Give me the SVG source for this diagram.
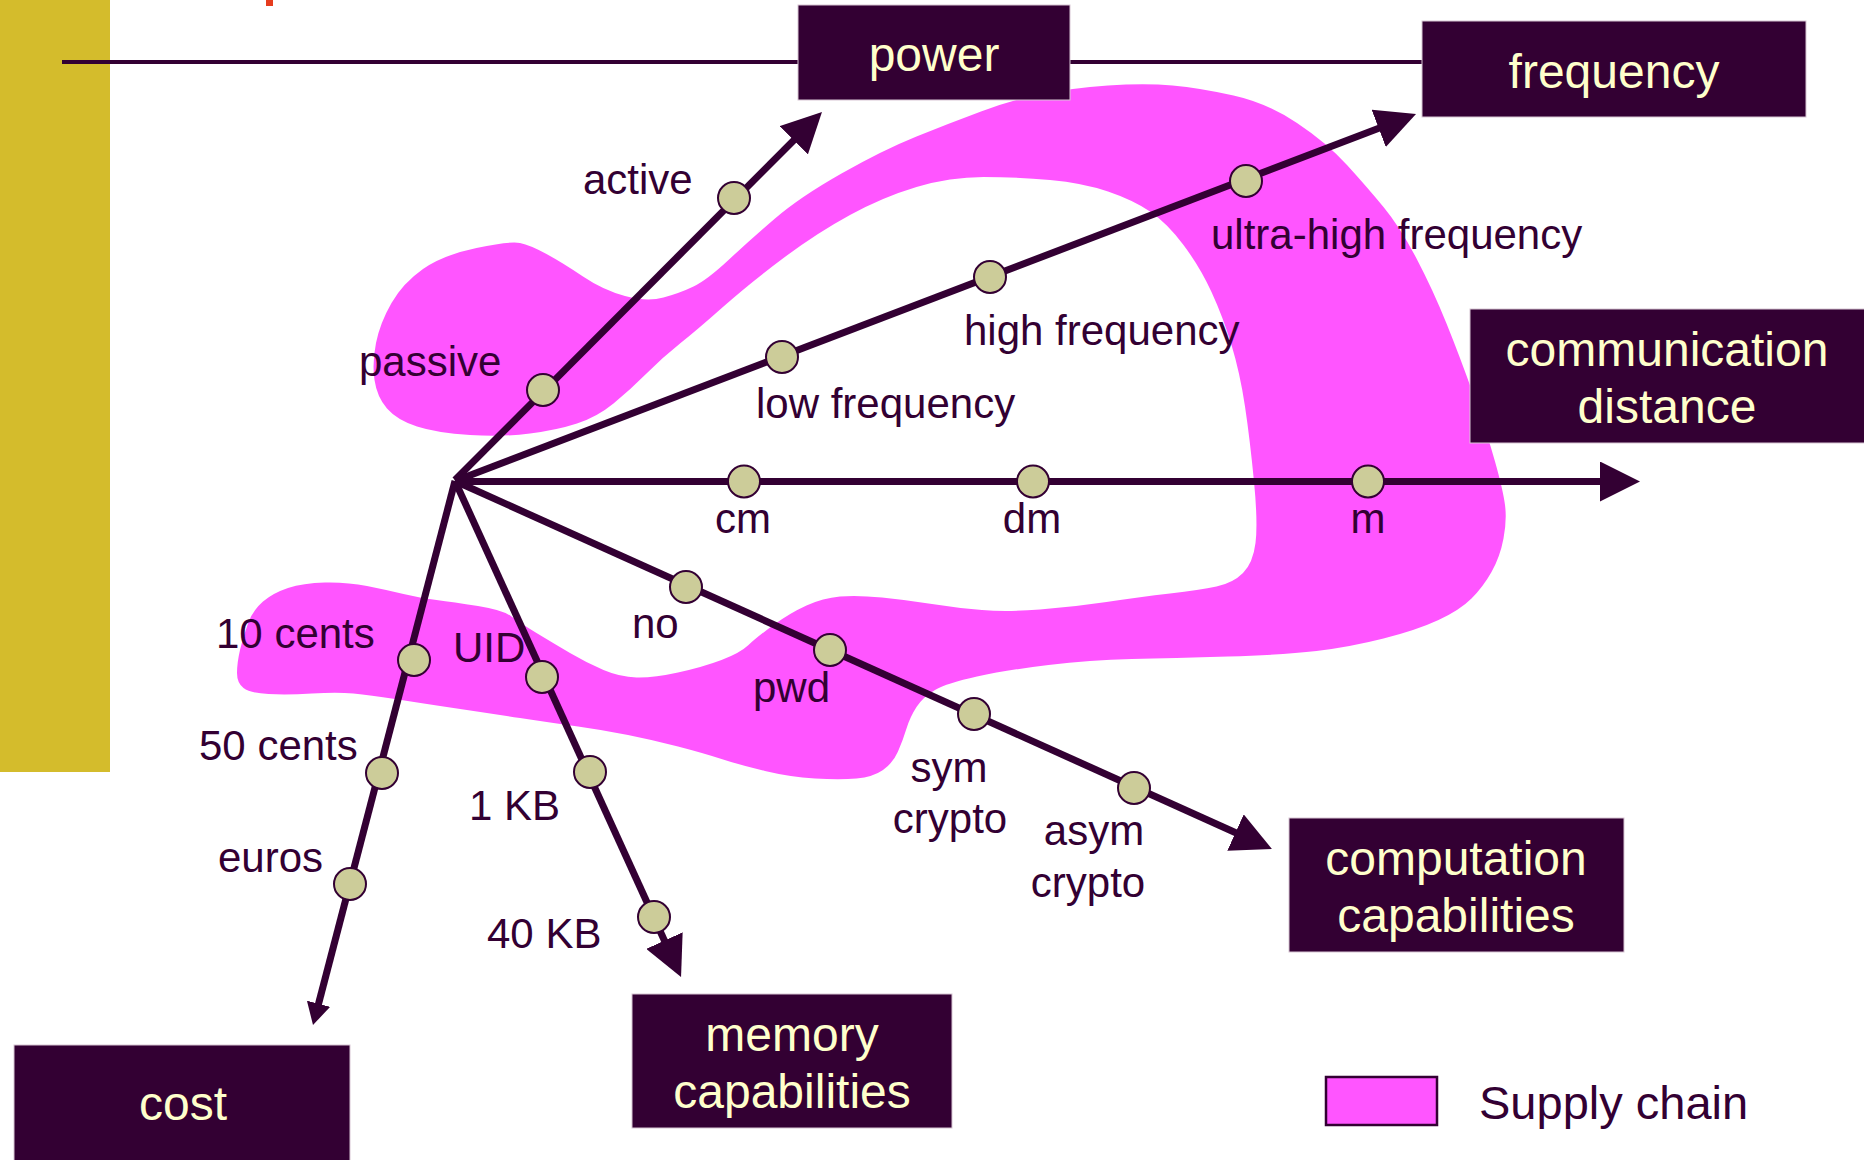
<svg xmlns="http://www.w3.org/2000/svg" width="1864" height="1160" viewBox="0 0 1864 1160">
<style>
.ax{stroke:#330033;stroke-width:7;fill:none}
.nd{fill:#CCCC99;stroke:#330033;stroke-width:2}
.lb{font-family:"Liberation Sans",Arial,sans-serif;font-size:42px;fill:#330033}
.lbm{font-family:"Liberation Sans",Arial,sans-serif;font-size:42px;fill:#330033;text-anchor:middle}
.bx{fill:#330033;stroke:#d8c6d4;stroke-width:1}
.bt{font-family:"Liberation Sans",Arial,sans-serif;font-size:48px;fill:#FFFFCC;text-anchor:middle}
</style>
<defs>
<marker id="ah" markerUnits="userSpaceOnUse" markerWidth="40" markerHeight="40" viewBox="0 0 40 40" refX="10" refY="20" orient="auto"><path d="M0,0 L40,20 L0,40 Z" fill="#330033"/></marker>
<marker id="ahs" markerUnits="userSpaceOnUse" markerWidth="22" markerHeight="24" viewBox="0 0 22 24" refX="7" refY="12" orient="auto"><path d="M0,0 L22,12 L0,24 Z" fill="#330033"/></marker>
</defs>
<rect width="1864" height="1160" fill="#ffffff"/>
<rect x="0" y="0" width="110" height="772" fill="#D4BC2C"/>
<rect x="266" y="0" width="7" height="6" fill="#E63C1E"/>
<line x1="62" y1="62" x2="1422" y2="62" stroke="#330033" stroke-width="4"/>

<g id="supply-chain-area">
<path fill="#FF55FF" d="M765,771 Q790,777 815,778.5 Q840,780 856.5,778.5 Q873,777 883,770 Q893,763 898,751.5 Q903,740 906.5,728.5 Q910,717 916.5,707 Q923,697 935,690 Q947,683 977,676.5 Q1007,670 1048.5,665 Q1090,660 1131.5,659 Q1173,658 1228,656.5 Q1283,655 1316.5,651 Q1350,647 1383.5,638.5 Q1417,630 1438.5,620 Q1460,610 1471.5,598.5 Q1483,587 1491.5,572 Q1500,557 1503.5,538.5 Q1507,520 1505,505 Q1503,490 1495,461.5 Q1487,433 1473.5,395 Q1460,357 1446.5,323.5 Q1433,290 1416.5,258.5 Q1400,227 1383.5,207 Q1367,187 1347,165 Q1327,143 1297,123 Q1267,103 1233.5,95.5 Q1200,88 1172.5,85.5 Q1145,83 1108,85.5 Q1071,88 1041.5,94 Q1012,100 981,111.5 Q950,123 916.5,136.5 Q883,150 841.5,173.5 Q800,197 775,218.5 Q750,240 728.5,260 Q707,280 693.5,286.5 Q680,293 663.5,297.5 Q647,302 625,296 Q603,290 583,276.5 Q563,263 546.5,254 Q530,245 520,243 Q510,241 476.5,248 Q443,255 423,269 Q403,283 391.5,303 Q380,323 376,343 Q372,363 374.5,380 Q377,397 387,408.5 Q397,420 417,426.5 Q437,433 470,435 Q503,437 530,433.5 Q557,430 577,423.5 Q597,417 613.5,403.5 Q630,390 646.5,373.5 Q663,357 680,343.5 Q697,330 723.5,306.5 Q750,283 783.5,258 Q817,233 850,215 Q883,197 916.5,187 Q950,177 983.5,177 Q1017,177 1050,180 Q1083,183 1108,191.5 Q1133,200 1150,211.5 Q1167,223 1183.5,245 Q1200,267 1211.5,292 Q1223,317 1231.5,345 Q1240,373 1245,406.5 Q1250,440 1254,481.5 Q1258,523 1255.5,543 Q1253,563 1243,573 Q1233,583 1216.5,586.5 Q1200,590 1170,593.5 Q1140,597 1106.5,602 Q1073,607 1040,609.5 Q1007,612 982,610 Q957,608 932,604 Q907,600 882,597.5 Q857,595 840,596.5 Q823,598 806.5,605.5 Q790,613 773.5,625 Q757,637 748.5,645 Q740,653 721.5,660 Q703,667 678,672.5 Q653,678 636.5,677.5 Q620,677 603.5,670 Q587,663 570,653 Q553,643 536.5,633 Q520,623 511.5,616.5 Q503,610 478,606 Q453,602 436.5,600 Q420,598 403.5,594 Q387,590 367,586 Q347,582 325,582.5 Q303,583 288,588 Q273,593 263,601.5 Q253,610 248,623.5 Q243,637 240,650 Q237,663 237,673 Q237,683 243.5,688 Q250,693 268.5,694 Q287,695 312,693.5 Q337,692 353.5,693.5 Q370,695 395,699 Q420,703 453.5,708 Q487,713 520,718 Q553,723 578,726.5 Q603,730 628,735 Q653,740 678,746.5 Q703,753 721.5,759 Q740,765 765,771 Z"/>
</g>

<g id="connectors">
<line class="ax" x1="455" y1="480" x2="800.8" y2="133.2" marker-end="url(#ah)"/>
<line class="ax" x1="455" y1="481" x2="1388" y2="124.7" marker-end="url(#ah)"/>
<line class="ax" x1="455" y1="481.5" x2="1610" y2="481.5" marker-end="url(#ah)"/>
<line class="ax" x1="455" y1="481" x2="1244.6" y2="836.7" marker-end="url(#ah)"/>
<line class="ax" x1="455" y1="481" x2="668.6" y2="949.7" marker-end="url(#ah)"/>
<line class="ax" x1="455" y1="481" x2="316.8" y2="1010.5" marker-end="url(#ahs)"/>
</g>

<g id="pt-passive"><circle class="nd" cx="543" cy="390" r="16"/><text class="lb" x="359" y="376">passive</text></g>
<g id="pt-active"><circle class="nd" cx="734" cy="198" r="16"/><text class="lb" x="583" y="194">active</text></g>
<g id="pt-low"><circle class="nd" cx="782" cy="357" r="16"/><text class="lb" x="756" y="418">low frequency</text></g>
<g id="pt-high"><circle class="nd" cx="990" cy="277" r="16"/><text class="lb" x="964" y="345">high frequency</text></g>
<g id="pt-uhf"><circle class="nd" cx="1246" cy="181" r="16"/><text class="lb" x="1211" y="249">ultra-high frequency</text></g>
<g id="pt-cm"><circle class="nd" cx="744" cy="481.5" r="16"/><text class="lbm" x="743" y="533">cm</text></g>
<g id="pt-dm"><circle class="nd" cx="1033" cy="481.5" r="16"/><text class="lbm" x="1032" y="533">dm</text></g>
<g id="pt-m"><circle class="nd" cx="1368" cy="481.5" r="16"/><text class="lbm" x="1368" y="533">m</text></g>
<g id="pt-no"><circle class="nd" cx="686" cy="587" r="16"/><text class="lb" x="632" y="638">no</text></g>
<g id="pt-pwd"><circle class="nd" cx="830" cy="650" r="16"/><text class="lb" x="753" y="702">pwd</text></g>
<g id="pt-sym"><circle class="nd" cx="974" cy="714" r="16"/><text class="lbm" x="949" y="782">sym</text><text class="lbm" x="950" y="833">crypto</text></g>
<g id="pt-asym"><circle class="nd" cx="1134" cy="788" r="16"/><text class="lbm" x="1094" y="845">asym</text><text class="lbm" x="1088" y="897">crypto</text></g>
<g id="pt-uid"><circle class="nd" cx="542" cy="677" r="16"/><text class="lb" x="453" y="662">UID</text></g>
<g id="pt-1kb"><circle class="nd" cx="590" cy="772" r="16"/><text class="lb" x="469" y="820">1 KB</text></g>
<g id="pt-40kb"><circle class="nd" cx="654" cy="917" r="16"/><text class="lb" x="487" y="948">40 KB</text></g>
<g id="pt-10c"><circle class="nd" cx="414" cy="660" r="16"/><text class="lb" x="216" y="648">10 cents</text></g>
<g id="pt-50c"><circle class="nd" cx="382" cy="773" r="16"/><text class="lb" x="199" y="760">50 cents</text></g>
<g id="pt-euros"><circle class="nd" cx="350" cy="884" r="16"/><text class="lb" x="218" y="872">euros</text></g>

<g id="box-power"><rect class="bx" x="798" y="5" width="272" height="95"/><text class="bt" x="934" y="71">power</text></g>
<g id="box-frequency"><rect class="bx" x="1422" y="21" width="384" height="96"/><text class="bt" x="1614" y="88">frequency</text></g>
<g id="box-distance"><rect class="bx" x="1470" y="309" width="400" height="134"/><text class="bt" x="1667" y="366">communication</text><text class="bt" x="1667" y="423">distance</text></g>
<g id="box-computation"><rect class="bx" x="1289" y="818" width="335" height="134"/><text class="bt" x="1456" y="875">computation</text><text class="bt" x="1456" y="932">capabilities</text></g>
<g id="box-memory"><rect class="bx" x="632" y="994" width="320" height="134"/><text class="bt" x="792" y="1051">memory</text><text class="bt" x="792" y="1108">capabilities</text></g>
<g id="box-cost"><rect class="bx" x="14" y="1045" width="336" height="120"/><text class="bt" x="183" y="1120">cost</text></g>

<g id="legend">
<rect x="1326" y="1077" width="111" height="48" fill="#FF55FF" stroke="#330033" stroke-width="2.5"/>
<text x="1479" y="1119" style="font-family:'Liberation Sans',Arial,sans-serif;font-size:47px;fill:#330033">Supply chain</text>
</g>
</svg>
